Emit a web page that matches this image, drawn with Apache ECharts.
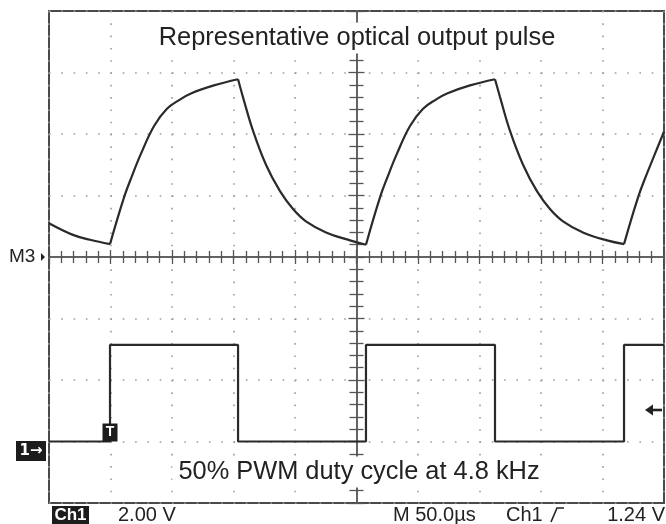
<!DOCTYPE html>
<html>
<head>
<meta charset="utf-8">
<script src="https://cdn.jsdelivr.net/npm/echarts@6/dist/echarts.min.js"></script>
<style>
html, body { margin: 0; padding: 0; background: #fff; }
#main { width: 666px; height: 524px; }
</style>
</head>
<body>
<div id="main"></div>
<script>
var myChart = echarts.init(document.getElementById('main'));

// time in µs from the screen centre, level in divisions
var pulseT = [-250, -230.5, -216.7, -200.4,
    -189.0, -182.5, -175.2, -164.6, -154.1, -143.5, -134.6, -115.9, -96.3,
    -92.3, -84.1, -73.6, -62.2, -51.6, -41.1, -24.8, -5.3, 7.7,
    19.1, 25.6, 32.9, 43.5, 54.1, 64.6, 73.6, 92.3, 112.6,
    116.7, 124.8, 135.4, 146.7, 157.3, 167.9, 184.1, 203.7, 217.5,
    228.9, 235.4, 242.7, 250];
var pulseV = [0.55, 0.36, 0.28, 0.21,
    0.97, 1.32, 1.68, 2.13, 2.41, 2.56, 2.66, 2.79, 2.89,
    2.60, 2.05, 1.50, 1.07, 0.78, 0.58, 0.40, 0.27, 0.20,
    0.97, 1.32, 1.68, 2.13, 2.41, 2.56, 2.66, 2.79, 2.89,
    2.60, 2.05, 1.50, 1.07, 0.78, 0.58, 0.40, 0.27, 0.21,
    0.97, 1.32, 1.68, 2.04];
var pwmEdges = [-200.4, -96.3, 7.7, 112.6, 217.5];
var pwmLow = -3.0;
var pwmHigh = -1.43;
var timeRange = [-250, 250];   // 10 div x 50 µs
var divRange = [-4, 4];

var font = '"Liberation Sans", Arial, sans-serif';
var ink = '#222';

// split the optical trace at the pwm edges so the corners stay sharp
var pulseSegs = [[]];
for (var i = 0; i < pulseT.length; i++) {
    pulseSegs[pulseSegs.length - 1].push([pulseT[i], pulseV[i]]);
    if (pwmEdges.indexOf(pulseT[i]) >= 0) {
        pulseSegs.push([[pulseT[i], pulseV[i]]]);
    }
}

var pwmData = [[timeRange[0], pwmLow]];
var level = pwmLow;
pwmEdges.forEach(function (t) {
    pwmData.push([t, level]);
    level = (level === pwmLow) ? pwmHigh : pwmLow;
    pwmData.push([t, level]);
});
pwmData.push([timeRange[1], level]);

var dotted = { color: '#9c9c9c', width: 1.6, type: [1.6, 10.7] };
var tickStyle = { color: '#555', width: 1.3 };

function crossX(inside) {
    return {
        type: 'value', min: timeRange[0], max: timeRange[1], interval: 50,
        position: 'bottom',
        axisLine: { show: true, onZero: true, onZeroAxisIndex: 0, lineStyle: { color: '#5a5a5a', width: 1.5 } },
        axisTick: { show: true, inside: inside, length: 7, lineStyle: tickStyle },
        minorTick: { show: true, splitNumber: 5, length: 6, lineStyle: tickStyle },
        axisLabel: { show: false },
        splitLine: { show: false }
    };
}
function crossY(inside) {
    return {
        type: 'value', min: divRange[0], max: divRange[1], interval: 1,
        position: 'left',
        axisLine: { show: true, onZero: true, onZeroAxisIndex: 0, lineStyle: { color: '#5a5a5a', width: 1.5 } },
        axisTick: { show: true, inside: inside, length: 8, lineStyle: tickStyle },
        minorTick: { show: true, splitNumber: 5, length: 7, lineStyle: tickStyle },
        axisLabel: { show: false },
        splitLine: { show: false }
    };
}

var series = pulseSegs.map(function (seg) {
    return {
        type: 'line', data: seg, smooth: 0.4,
        symbol: 'none', silent: true,
        lineStyle: { color: '#2a2a2a', width: 2.2 }
    };
});
series.push({
    type: 'line', data: pwmData, symbol: 'none', silent: true,
    lineStyle: { color: '#2a2a2a', width: 2.2 },
    markPoint: {
        silent: true,
        data: [{
            coord: [pwmEdges[0], pwmLow],
            symbol: 'rect', symbolSize: [15, 18], symbolOffset: [0, -9],
            itemStyle: { color: '#1c1c1c' },
            label: { show: true, position: 'inside', formatter: 'T', color: '#fff', fontWeight: 'bold', fontSize: 14, fontFamily: font }
        }]
    }
});

function txt(x, y, s, size, align, extra) {
    var st = {
        text: s, x: x, y: y, fill: ink, font: (extra || '') + ' ' + size + 'px ' + font,
        align: align, verticalAlign: 'middle', textAlign: align, textVerticalAlign: 'middle'
    };
    return { type: 'text', z: 100, style: st };
}
// captions sit on a white patch that hides the graticule behind them
function caption(x, y, s) {
    var t = txt(x, y, s, 25.4, 'center');
    t.style.backgroundColor = '#fff';
    t.style.padding = [3, 6, 3, 6];
    return t;
}

var option = {
    animation: false,
    backgroundColor: '#fff',
    grid: {
        left: 49, top: 11, width: 615, height: 492,
        show: true, borderColor: '#4a4a4a', borderWidth: 2, backgroundColor: 'transparent'
    },
    xAxis: [
        {
            type: 'value', min: timeRange[0], max: timeRange[1], interval: 50,
            position: 'bottom',
            axisLine: { show: false, onZero: false }, axisTick: { show: false }, axisLabel: { show: false },
            splitLine: { show: true, lineStyle: dotted }
        },
        crossX(true),
        crossX(false)
    ],
    yAxis: [
        {
            type: 'value', min: divRange[0], max: divRange[1], interval: 1,
            position: 'left',
            axisLine: { show: false, onZero: false }, axisTick: { show: false }, axisLabel: { show: false },
            splitLine: { show: true, lineStyle: dotted }
        },
        crossY(true),
        crossY(false)
    ],
    series: series,
    graphic: [
        caption(357, 38, 'Representative optical output pulse'),
        caption(359, 472, '50% PWM duty cycle at 4.8 kHz'),
        txt(9, 257, 'M3', 19, 'left'),
        { type: 'polygon', z: 100, shape: { points: [[41, 253], [45, 257], [41, 261]] }, style: { fill: ink } },
        // channel 1 ground marker
        { type: 'rect', z: 100, shape: { x: 16, y: 441, width: 30, height: 20 }, style: { fill: '#1c1c1c' } },
        { type: 'text', z: 101, style: { text: '1→', x: 31, y: 451, fill: '#fff', font: 'bold 15px "DejaVu Sans", sans-serif', align: 'center', verticalAlign: 'middle', textAlign: 'center', textVerticalAlign: 'middle' } },
        // trigger level arrow
        { type: 'polyline', z: 100, shape: { points: [[650, 410], [662, 410]] }, style: { stroke: ink, lineWidth: 2.6, fill: null } },
        { type: 'polygon', z: 100, shape: { points: [[645, 410], [653, 404.5], [653, 415.5]] }, style: { fill: ink } },
        // status line
        { type: 'rect', z: 100, shape: { x: 52, y: 506, width: 37, height: 18 }, style: { fill: '#1c1c1c' } },
        { type: 'text', z: 101, style: { text: 'Ch1', x: 70.5, y: 515, fill: '#fff', font: 'bold 17px ' + font, align: 'center', verticalAlign: 'middle', textAlign: 'center', textVerticalAlign: 'middle' } },
        txt(118, 515, '2.00 V', 20, 'left'),
        txt(393, 515, 'M 50.0µs', 20, 'left'),
        txt(506, 515, 'Ch1', 20, 'left'),
        { type: 'polyline', z: 100, shape: { points: [[551, 522], [557, 508], [564, 508]] }, style: { stroke: ink, lineWidth: 1.6, fill: null } },
        txt(665, 515, '1.24 V', 20, 'right')
    ]
};

myChart.setOption(option);
</script>
</body>
</html>
